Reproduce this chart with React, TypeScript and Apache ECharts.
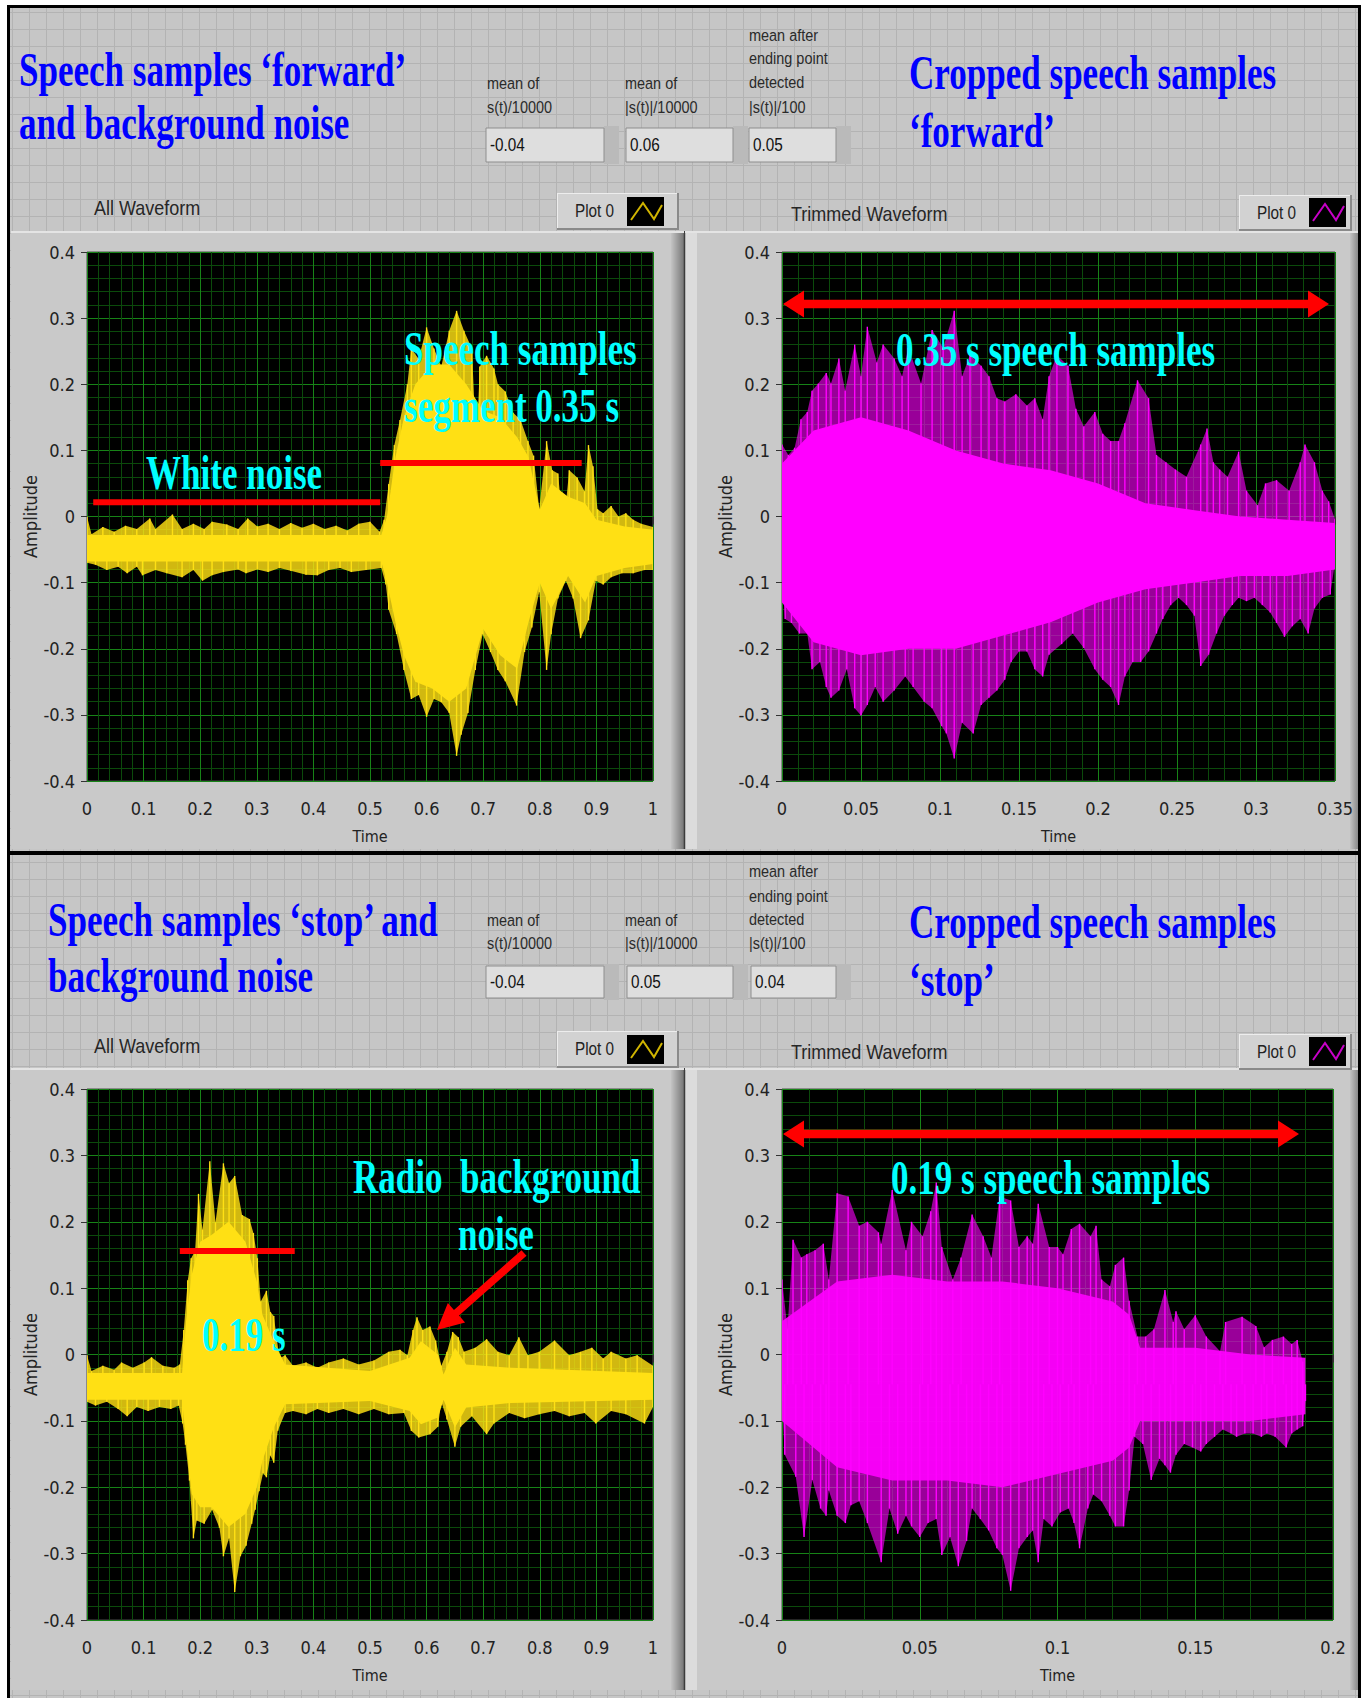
import React, { useEffect, useRef } from 'react';
import * as echarts from 'echarts';

const PAGE_W = 1363;
const PAGE_H = 1698;

// ---------- axis setup ----------
const timeMax = [1, 0.35, 1, 0.2];
const timeStep = [0.1, 0.05, 0.1, 0.05];
const ampMin = -0.4;
const ampMax = 0.4;
const ampStep = 0.1;
const waveCentre = -0.045; // DC level the samples swing around

// ---------- waveform envelopes ([time, amplitude]) ----------
const fwdUpper = [[0,0],[0.008,-0.027],[0.028,-0.016],[0.048,-0.023],[0.068,-0.014],[0.088,-0.019],[0.111,-0.003],[0.121,-0.019],[0.151,0.003],[0.168,-0.019],[0.188,-0.011],[0.207,-0.019],[0.221,-0.008],[0.247,-0.012],[0.267,-0.019],[0.284,-0.003],[0.301,-0.015],[0.32,-0.011],[0.34,-0.019],[0.36,-0.01],[0.38,-0.017],[0.4,-0.011],[0.42,-0.019],[0.44,-0.014],[0.46,-0.021],[0.48,-0.011],[0.5,-0.008],[0.517,-0.023],[0.525,-0.005],[0.533,0.049],[0.543,0.108],[0.553,0.146],[0.566,0.2],[0.573,0.254],[0.586,0.238],[0.6,0.286],[0.613,0.254],[0.626,0.227],[0.64,0.281],[0.653,0.311],[0.666,0.281],[0.68,0.254],[0.688,0.103],[0.694,0.227],[0.706,0.243],[0.719,0.224],[0.726,0.2],[0.739,0.189],[0.753,0.157],[0.766,0.146],[0.779,0.114],[0.789,0.092],[0.799,0.011],[0.812,0.114],[0.822,0.07],[0.832,0.065],[0.842,-0.016],[0.852,0.07],[0.866,0.059],[0.879,0.038],[0.886,0.108],[0.894,0.076],[0.902,0.011],[0.912,0.005],[0.926,0.016],[0.939,0],[0.952,0.005],[0.965,-0.005],[0.979,-0.011],[1,-0.016]];
const fwdLower = [[0,-0.07],[0.015,-0.073],[0.035,-0.081],[0.055,-0.076],[0.071,-0.086],[0.088,-0.076],[0.098,-0.089],[0.121,-0.081],[0.141,-0.086],[0.168,-0.092],[0.188,-0.081],[0.204,-0.097],[0.221,-0.089],[0.241,-0.084],[0.267,-0.08],[0.281,-0.086],[0.301,-0.08],[0.32,-0.084],[0.34,-0.078],[0.36,-0.082],[0.387,-0.088],[0.407,-0.089],[0.427,-0.081],[0.447,-0.078],[0.467,-0.084],[0.493,-0.081],[0.52,-0.078],[0.528,-0.103],[0.533,-0.141],[0.547,-0.178],[0.56,-0.232],[0.573,-0.276],[0.586,-0.27],[0.6,-0.303],[0.613,-0.276],[0.626,-0.281],[0.64,-0.297],[0.653,-0.362],[0.661,-0.33],[0.673,-0.297],[0.686,-0.232],[0.699,-0.178],[0.713,-0.205],[0.726,-0.232],[0.739,-0.249],[0.759,-0.286],[0.773,-0.205],[0.786,-0.168],[0.799,-0.114],[0.812,-0.232],[0.82,-0.178],[0.832,-0.124],[0.846,-0.097],[0.859,-0.124],[0.872,-0.184],[0.886,-0.157],[0.899,-0.097],[0.912,-0.103],[0.926,-0.092],[0.945,-0.086],[0.965,-0.086],[0.985,-0.081],[1,-0.081]];
// [time, upper, lower] of the dense core
const fwdCore = [[0,-0.028,-0.068],[0.52,-0.028,-0.068],[0.53,0,-0.1],[0.545,0.09,-0.16],[0.56,0.15,-0.21],[0.58,0.2,-0.25],[0.61,0.23,-0.26],[0.64,0.23,-0.28],[0.67,0.2,-0.26],[0.7,0.16,-0.17],[0.73,0.15,-0.21],[0.76,0.12,-0.23],[0.78,0.09,-0.16],[0.8,0.01,-0.1],[0.82,0.05,-0.14],[0.85,0.03,-0.09],[0.88,0.02,-0.13],[0.9,-0.005,-0.09],[0.95,-0.015,-0.078],[1,-0.02,-0.072]];

const fwdCropUpper = [[0,0.109],[0.004,0.093],[0.008,0.104],[0.012,0.147],[0.016,0.158],[0.019,0.19],[0.023,0.201],[0.028,0.217],[0.031,0.201],[0.036,0.239],[0.04,0.19],[0.046,0.26],[0.05,0.212],[0.054,0.287],[0.06,0.233],[0.064,0.26],[0.071,0.239],[0.076,0.212],[0.08,0.255],[0.088,0.201],[0.095,0.282],[0.102,0.255],[0.109,0.311],[0.114,0.212],[0.119,0.244],[0.126,0.228],[0.131,0.212],[0.136,0.179],[0.141,0.174],[0.148,0.185],[0.155,0.168],[0.16,0.179],[0.165,0.147],[0.169,0.212],[0.174,0.244],[0.181,0.228],[0.186,0.163],[0.191,0.136],[0.198,0.158],[0.203,0.125],[0.208,0.114],[0.213,0.114],[0.217,0.141],[0.225,0.206],[0.232,0.179],[0.237,0.093],[0.243,0.082],[0.249,0.071],[0.256,0.06],[0.265,0.109],[0.269,0.133],[0.273,0.082],[0.277,0.071],[0.282,0.06],[0.289,0.098],[0.294,0.039],[0.301,0.017],[0.306,0.05],[0.313,0.055],[0.321,0.039],[0.328,0.082],[0.331,0.109],[0.337,0.082],[0.342,0.039],[0.346,0.023],[0.35,-0.004]];
const fwdCropLower = [[0,-0.101],[0.002,-0.155],[0.006,-0.161],[0.011,-0.177],[0.016,-0.177],[0.019,-0.231],[0.024,-0.22],[0.028,-0.258],[0.031,-0.274],[0.036,-0.263],[0.041,-0.231],[0.046,-0.29],[0.05,-0.301],[0.054,-0.285],[0.059,-0.258],[0.064,-0.28],[0.071,-0.263],[0.078,-0.242],[0.083,-0.258],[0.09,-0.28],[0.095,-0.29],[0.101,-0.317],[0.104,-0.328],[0.109,-0.366],[0.114,-0.312],[0.121,-0.328],[0.126,-0.285],[0.131,-0.274],[0.136,-0.263],[0.141,-0.247],[0.145,-0.22],[0.15,-0.204],[0.155,-0.204],[0.16,-0.231],[0.165,-0.242],[0.169,-0.209],[0.177,-0.193],[0.184,-0.177],[0.191,-0.199],[0.198,-0.231],[0.203,-0.247],[0.208,-0.258],[0.213,-0.285],[0.217,-0.242],[0.222,-0.22],[0.227,-0.22],[0.232,-0.204],[0.237,-0.177],[0.241,-0.155],[0.246,-0.134],[0.251,-0.123],[0.256,-0.134],[0.261,-0.15],[0.265,-0.226],[0.27,-0.209],[0.275,-0.177],[0.28,-0.15],[0.285,-0.134],[0.289,-0.123],[0.294,-0.128],[0.299,-0.123],[0.304,-0.134],[0.309,-0.145],[0.313,-0.161],[0.318,-0.182],[0.323,-0.166],[0.328,-0.155],[0.333,-0.177],[0.337,-0.139],[0.342,-0.123],[0.347,-0.118],[0.35,-0.069]];
const fwdCropCore = [[0,0.08,-0.13],[0.02,0.13,-0.19],[0.05,0.15,-0.21],[0.08,0.13,-0.2],[0.11,0.1,-0.2],[0.14,0.08,-0.18],[0.17,0.07,-0.16],[0.2,0.05,-0.13],[0.23,0.02,-0.11],[0.26,0.01,-0.1],[0.29,0,-0.09],[0.32,-0.005,-0.09],[0.35,-0.01,-0.08]];

const stopUpper = [[0,-0.001],[0.008,-0.025],[0.028,-0.017],[0.048,-0.023],[0.061,-0.012],[0.081,-0.02],[0.101,-0.012],[0.114,-0.004],[0.134,-0.017],[0.154,-0.02],[0.164,-0.015],[0.171,0.037],[0.178,0.112],[0.184,0.145],[0.191,0.156],[0.197,0.242],[0.204,0.188],[0.217,0.291],[0.227,0.199],[0.241,0.288],[0.251,0.258],[0.261,0.269],[0.274,0.21],[0.287,0.204],[0.294,0.183],[0.301,0.145],[0.307,0.08],[0.317,0.096],[0.324,0.064],[0.33,0.058],[0.34,-0.006],[0.35,-0.001],[0.364,-0.017],[0.387,-0.012],[0.407,-0.02],[0.427,-0.012],[0.453,-0.006],[0.48,-0.015],[0.507,-0.009],[0.533,0.004],[0.553,0.007],[0.566,-0.001],[0.576,0.037],[0.583,0.056],[0.593,0.037],[0.606,0.042],[0.616,0.021],[0.626,-0.017],[0.636,0.004],[0.646,0.034],[0.656,0.026],[0.666,0.004],[0.686,0.01],[0.706,0.023],[0.726,0.004],[0.746,-0.001],[0.763,0.026],[0.779,-0.001],[0.799,0.004],[0.826,0.021],[0.852,-0.001],[0.872,0.004],[0.892,0.01],[0.912,-0.006],[0.926,0.004],[0.952,-0.006],[0.972,-0.001],[1,-0.017]];
const stopLower = [[0,-0.071],[0.015,-0.077],[0.035,-0.071],[0.055,-0.082],[0.071,-0.093],[0.088,-0.079],[0.108,-0.085],[0.128,-0.079],[0.148,-0.082],[0.162,-0.077],[0.169,-0.104],[0.174,-0.136],[0.181,-0.19],[0.188,-0.277],[0.194,-0.25],[0.207,-0.255],[0.221,-0.234],[0.234,-0.261],[0.241,-0.304],[0.251,-0.277],[0.261,-0.358],[0.271,-0.304],[0.281,-0.288],[0.291,-0.255],[0.297,-0.234],[0.304,-0.206],[0.311,-0.179],[0.317,-0.185],[0.324,-0.152],[0.33,-0.163],[0.337,-0.115],[0.35,-0.088],[0.364,-0.085],[0.387,-0.09],[0.407,-0.082],[0.427,-0.088],[0.453,-0.082],[0.48,-0.09],[0.507,-0.082],[0.533,-0.09],[0.56,-0.088],[0.573,-0.115],[0.586,-0.125],[0.606,-0.12],[0.62,-0.109],[0.626,-0.071],[0.636,-0.098],[0.65,-0.139],[0.66,-0.109],[0.68,-0.093],[0.706,-0.12],[0.719,-0.104],[0.746,-0.088],[0.773,-0.096],[0.799,-0.09],[0.826,-0.085],[0.852,-0.093],[0.879,-0.088],[0.899,-0.104],[0.926,-0.085],[0.952,-0.09],[0.985,-0.104],[1,-0.079]];
const stopCore = [[0,-0.028,-0.068],[0.168,-0.028,-0.068],[0.175,0.05,-0.13],[0.185,0.12,-0.21],[0.2,0.17,-0.23],[0.22,0.18,-0.23],[0.25,0.2,-0.26],[0.28,0.17,-0.24],[0.3,0.11,-0.2],[0.31,0.06,-0.16],[0.33,0.02,-0.11],[0.35,-0.015,-0.075],[0.5,-0.025,-0.07],[0.57,-0.005,-0.085],[0.59,0.02,-0.105],[0.62,0,-0.095],[0.63,-0.03,-0.068],[0.65,0.01,-0.11],[0.67,-0.015,-0.08],[0.75,-0.02,-0.073],[1,-0.028,-0.068]];

const stopCropUpper = [[0,0.113],[0.002,0.038],[0.004,0.173],[0.007,0.146],[0.009,0.151],[0.012,0.157],[0.015,0.167],[0.017,0.113],[0.02,0.243],[0.024,0.238],[0.028,0.194],[0.031,0.2],[0.035,0.184],[0.036,0.167],[0.04,0.248],[0.045,0.157],[0.047,0.2],[0.051,0.178],[0.054,0.216],[0.056,0.259],[0.058,0.162],[0.062,0.113],[0.065,0.146],[0.069,0.211],[0.073,0.178],[0.076,0.146],[0.079,0.238],[0.083,0.232],[0.086,0.162],[0.089,0.178],[0.091,0.167],[0.093,0.227],[0.097,0.162],[0.1,0.162],[0.102,0.151],[0.105,0.189],[0.108,0.197],[0.112,0.178],[0.114,0.194],[0.116,0.113],[0.119,0.103],[0.121,0.135],[0.124,0.146],[0.126,0.081],[0.129,0.027],[0.132,0.027],[0.135,0.038],[0.139,0.097],[0.142,0.049],[0.143,0.065],[0.146,0.038],[0.15,0.059],[0.154,0.027],[0.159,0.005],[0.161,0.049],[0.167,0.057],[0.172,0.043],[0.175,0.011],[0.178,0.022],[0.182,0.027],[0.185,0.016],[0.187,0.022],[0.189,-0.011]];
const stopCropLower = [[0,-0.07],[0.001,-0.151],[0.005,-0.184],[0.008,-0.275],[0.011,-0.189],[0.014,-0.232],[0.016,-0.243],[0.017,-0.205],[0.02,-0.243],[0.023,-0.254],[0.025,-0.227],[0.028,-0.221],[0.031,-0.254],[0.036,-0.313],[0.039,-0.232],[0.042,-0.27],[0.045,-0.243],[0.047,-0.259],[0.05,-0.275],[0.053,-0.254],[0.056,-0.248],[0.058,-0.302],[0.061,-0.275],[0.064,-0.319],[0.067,-0.281],[0.069,-0.232],[0.072,-0.248],[0.075,-0.265],[0.078,-0.292],[0.08,-0.302],[0.083,-0.356],[0.086,-0.292],[0.089,-0.275],[0.091,-0.265],[0.093,-0.313],[0.095,-0.248],[0.098,-0.259],[0.101,-0.238],[0.104,-0.232],[0.106,-0.254],[0.108,-0.292],[0.111,-0.232],[0.113,-0.211],[0.116,-0.221],[0.119,-0.243],[0.121,-0.259],[0.124,-0.259],[0.126,-0.205],[0.128,-0.124],[0.131,-0.135],[0.134,-0.189],[0.137,-0.157],[0.139,-0.167],[0.141,-0.178],[0.143,-0.151],[0.146,-0.135],[0.149,-0.14],[0.152,-0.146],[0.154,-0.135],[0.157,-0.124],[0.16,-0.113],[0.163,-0.119],[0.165,-0.124],[0.168,-0.119],[0.171,-0.119],[0.174,-0.124],[0.176,-0.119],[0.179,-0.124],[0.183,-0.14],[0.185,-0.119],[0.187,-0.113],[0.189,-0.108],[0.19,-0.07]];
const stopCropCore = [[0,0.05,-0.1],[0.02,0.11,-0.17],[0.04,0.12,-0.19],[0.06,0.11,-0.19],[0.08,0.11,-0.2],[0.1,0.1,-0.18],[0.12,0.08,-0.16],[0.126,0.06,-0.14],[0.13,0.01,-0.1],[0.15,0.01,-0.1],[0.17,0,-0.1],[0.19,-0.005,-0.09]];

// red marker bars drawn on the full waveforms ([t0, t1, amplitude])
const fwdMarks = [[0.011, 0.518, 0.0216], [0.518, 0.874, 0.081]];
const stopMarks = [[0.164, 0.367, 0.156]];

// indicator readouts
const fwdStats = ['-0.04', '0.06', '0.05'];
const stopStats = ['-0.04', '0.05', '0.04'];

// ---------- styling ----------
const UI = '"Liberation Sans", "DejaVu Sans", Arial, sans-serif';
const AXIS_FONT = '"Liberation Sans Narrow", "DejaVu Sans Condensed", "Liberation Sans", Arial, sans-serif';
const SERIF = '"Liberation Serif", "Times New Roman", serif';
const YELLOW = '#ffe014';
const YELLOW_EDGE = 'rgba(255,224,20,0.82)';
const MAGENTA = '#ff00ff';
const MAGENTA_EDGE = 'rgba(255,0,255,0.6)';
const CYAN = '#00ffff';
const BLUE = '#0000ff';
const RED = '#ff0000';

const grids = [
  { left: 87, top: 252, width: 566, height: 529 },
  { left: 782, top: 252, width: 553, height: 529 },
  { left: 87, top: 1089, width: 566, height: 531 },
  { left: 782, top: 1089, width: 551, height: 531 },
];

// outer envelope: translucent polygon plus a vertical stroke at every read spike
function envelopeSeries(idx: number, upper: number[][], lower: number[][], fill: string, z: number, spike?: string) {
  return {
    type: 'custom', xAxisIndex: idx, yAxisIndex: idx, z, silent: true, clip: true,
    data: [[0, 0]],
    renderItem: (_p: any, api: any) => {
      const pts: number[][] = [];
      upper.forEach((d) => pts.push(api.coord([d[0], d[1]])));
      for (let i = lower.length - 1; i >= 0; i--) pts.push(api.coord([lower[i][0], lower[i][1]]));
      const children: any[] = [{ type: 'polygon', shape: { points: pts }, style: { fill } }];
      if (spike) {
        [...upper, ...lower].forEach((d) => {
          const a = api.coord([d[0], d[1]]);
          const b = api.coord([d[0], waveCentre]);
          children.push({ type: 'line', shape: { x1: a[0], y1: a[1], x2: b[0], y2: b[1] }, style: { stroke: spike, lineWidth: 1.4 } });
        });
      }
      return { type: 'group', children };
    },
  };
}
function coreSeries(idx: number, core: number[][], fill: string, z: number) {
  return envelopeSeries(idx, core.map((c) => [c[0], c[1]]), core.map((c) => [c[0], c[2]]), fill, z);
}
function markSeries(idx: number, marks: number[][]) {
  return marks.map((m) => ({
    type: 'line', xAxisIndex: idx, yAxisIndex: idx, z: 5, silent: true, symbol: 'none',
    data: [[m[0], m[2]], [m[1], m[2]]],
    lineStyle: { color: RED, width: 6, cap: 'butt' },
  }));
}

// ---------- graphic helpers ----------
const R = (x: number, y: number, w: number, h: number, fill: any, z: number, extra: any = {}) =>
  ({ type: 'rect', silent: true, z, shape: { x, y, width: w, height: h }, style: { fill, ...extra } });
const L = (x1: number, y1: number, x2: number, y2: number, stroke: string, lw: number, z: number) =>
  ({ type: 'line', silent: true, z, shape: { x1, y1, x2, y2 }, style: { stroke, lineWidth: lw } });
const T = (text: string, x: number, y: number, size: number, fill: string, z: number, sx = 1, family = UI, weight = 'normal') =>
  ({ type: 'text', silent: true, z, x, y, scaleX: sx,
    style: { text, x: 0, y: 0, fill, fontSize: size, fontFamily: family, fontWeight: weight, align: 'left', verticalAlign: 'middle' } });
const big = (text: string, x: number, y: number, fill: string) => T(text, x, y, 48, fill, 12, 0.73, SERIF, 'bold');

function doubleArrow(x1: number, x2: number, y: number) {
  const hl = 21, hh = 13.5, sh = 4.3;
  return { type: 'polygon', silent: true, z: 11, style: { fill: RED },
    shape: { points: [[x1, y], [x1 + hl, y - hh], [x1 + hl, y - sh], [x2 - hl, y - sh], [x2 - hl, y - hh], [x2, y], [x2 - hl, y + hh], [x2 - hl, y + sh], [x1 + hl, y + sh], [x1 + hl, y + hh]] } };
}
function singleArrow(tx: number, ty: number, hx: number, hy: number) {
  const hl = 26, hh = 13, sh = 3.8;
  const dx = hx - tx, dy = hy - ty, len = Math.hypot(dx, dy);
  const ux = dx / len, uy = dy / len, nx = -uy, ny = ux;
  const bx = hx - ux * hl, by = hy - uy * hl;
  return { type: 'polygon', silent: true, z: 11, style: { fill: RED },
    shape: { points: [[tx + nx * sh, ty + ny * sh], [bx + nx * sh, by + ny * sh], [bx + nx * hh, by + ny * hh], [hx, hy], [bx - nx * hh, by - ny * hh], [bx - nx * sh, by - ny * sh], [tx - nx * sh, ty - ny * sh]] } };
}

function buildGraphics() {
  const els: any[] = [];
  els.push(R(0, 0, PAGE_W, PAGE_H, '#ffffff', -40));
  els.push(R(8, 7, 1352, 1691, '#c6c6c6', -39));
  for (let x = 12; x < 1360; x += 17) els.push(L(x + 0.5, 8, x + 0.5, PAGE_H, '#b3b3b3', 1, -38));
  for (let y = 12; y < PAGE_H; y += 17) els.push(L(8, y + 0.5, 1360, y + 0.5, '#b3b3b3', 1, -38));

  const bevelDark = new echarts.graphic.LinearGradient(0, 0, 1, 0, [{ offset: 0, color: '#c4c4c4' }, { offset: 1, color: '#767676' }]);
  const bevelDark2 = new echarts.graphic.LinearGradient(0, 0, 1, 0, [{ offset: 0, color: '#c4c4c4' }, { offset: 1, color: '#8a8a8a' }]);
  const frames = (top: number, h: number) => {
    els.push(R(11, top, 673, h, '#c9c9c9', -30));
    els.push(R(671, top, 13, h, bevelDark, -29));
    els.push(L(684.5, top, 684.5, top + h, '#3c3c3c', 1.5, -28));
    els.push(L(11, top + 1, 684, top + 1, '#e4e4e4', 2, -28));
    els.push(R(685, top, 673, h, '#c9c9c9', -30));
    els.push(R(685, top, 12, h, '#dcdcdc', -29));
    els.push(R(1350, top, 8, h, bevelDark2, -29));
    els.push(L(685, top + 1, 1358, top + 1, '#e4e4e4', 2, -28));
  };
  frames(231, 618);
  frames(1068, 622);

  // borders and separator
  els.push(R(8, 851, 1352, 4, '#000000', -5));
  els.push(R(8.5, 6.5, 1351, 1700, 'none', -5, { stroke: '#000000', lineWidth: 3 }));

  // legends
  const legend = (bx: number, by: number, bw: number, bh: number, tx: number, ix: number, iy: number, color: string) => {
    els.push(R(bx, by, bw, bh, '#d2d2d2', -20));
    els.push(L(bx, by + 0.5, bx + bw, by + 0.5, '#ededed', 1, -19));
    els.push(L(bx + 0.5, by, bx + 0.5, by + bh, '#ededed', 1, -19));
    els.push(L(bx, by + bh - 1, bx + bw, by + bh - 1, '#8a8a8a', 2, -19));
    els.push(L(bx + bw - 1, by, bx + bw - 1, by + bh, '#8a8a8a', 2, -19));
    els.push(T('Plot 0', tx, by + bh / 2, 18, '#222222', 12, 0.85));
    els.push(R(ix, iy, 37, 29, '#000000', -18));
    els.push({ type: 'polyline', silent: true, z: -17, style: { stroke: color, lineWidth: 2, fill: null },
      shape: { points: [[ix + 4, iy + 23], [ix + 16, iy + 6], [ix + 27, iy + 22], [ix + 35, iy + 8]] } });
  };
  legend(557, 193, 122, 37, 575, 627, 197, '#d0b400');
  legend(1239, 195, 113, 36, 1257, 1309, 198, '#c800c8');
  legend(557, 1031, 122, 37, 575, 627, 1035, '#d0b400');
  legend(1239, 1034, 113, 36, 1257, 1309, 1037, '#c800c8');

  // graph captions
  els.push(T('All Waveform', 94, 208, 20, '#262626', 12, 0.9));
  els.push(T('Trimmed Waveform', 791, 214, 20, '#262626', 12, 0.9));
  els.push(T('All Waveform', 94, 1046, 20, '#262626', 12, 0.9));
  els.push(T('Trimmed Waveform', 791, 1052, 20, '#262626', 12, 0.9));

  // numeric indicators
  const box = (x: number, y: number, w: number, h: number, val: string) => {
    els.push(R(x + w, y - 2, 15, h + 4, '#bababa', -20));
    els.push(R(x, y, w, h, '#dedede', -19, { stroke: '#8e8e8e', lineWidth: 1 }));
    els.push(T(val, x + 4, y + h / 2, 18, '#111111', 12, 0.85));
  };
  const lab = (s: string, x: number, y: number) => els.push(T(s, x, y, 17, '#2a2a2a', 12, 0.85));
  // top half
  lab('mean of', 487, 83); lab('s(t)/10000', 487, 107);
  lab('mean of', 625, 83); lab('|s(t)|/10000', 625, 107);
  lab('mean after', 749, 35); lab('ending point', 749, 58); lab('detected', 749, 82); lab('|s(t)|/100', 749, 107);
  box(486, 128, 118, 34, fwdStats[0]); box(626, 128, 107, 34, fwdStats[1]); box(749, 128, 87, 34, fwdStats[2]);
  // bottom half
  lab('mean of', 487, 920); lab('s(t)/10000', 487, 943);
  lab('mean of', 625, 920); lab('|s(t)|/10000', 625, 943);
  lab('mean after', 749, 871); lab('ending point', 749, 896); lab('detected', 749, 919); lab('|s(t)|/100', 749, 943);
  box(486, 966, 118, 32, stopStats[0]); box(627, 966, 106, 32, stopStats[1]); box(751, 966, 85, 32, stopStats[2]);

  // titles
  els.push(big('Speech samples \u2018forward\u2019', 19, 70, BLUE));
  els.push(big('and background noise', 19, 123, BLUE));
  els.push(big('Cropped speech samples', 909, 73, BLUE));
  els.push(big('\u2018forward\u2019', 909, 131, BLUE));
  els.push(big('Speech samples \u2018stop\u2019 and', 48, 920, BLUE));
  els.push(big('background noise', 48, 976, BLUE));
  els.push(big('Cropped speech samples', 909, 922, BLUE));
  els.push(big('\u2018stop\u2019', 909, 980, BLUE));

  // annotations inside plots
  els.push(big('White noise', 146, 473, CYAN));
  els.push(big('Speech samples', 404, 349, CYAN));
  els.push(big('segment 0.35 s', 404, 406, CYAN));
  els.push(doubleArrow(783, 1329, 304));
  els.push(big('0.35 s speech samples', 896, 350, CYAN));
  els.push(big('0.19 s', 202, 1335, CYAN));
  els.push(big('Radio  background', 353, 1177, CYAN));
  els.push(big('noise', 458, 1234, CYAN));
  els.push(singleArrow(524, 1253, 437, 1330));
  els.push(doubleArrow(783, 1299, 1134));
  els.push(big('0.19 s speech samples', 891, 1178, CYAN));
  return els;
}

function buildOption() {
  const fmt = (v: number) => String(Math.round(v * 100) / 100);
  const labelStyle = { color: '#222222', fontSize: 18, fontFamily: AXIS_FONT };
  const xAxis = grids.map((g, i) => ({
    type: 'value', gridIndex: i, min: 0, max: timeMax[i], interval: timeStep[i],
    name: 'Time', nameLocation: 'middle', nameGap: 47,
    nameTextStyle: { color: '#222222', fontSize: 16, fontFamily: AXIS_FONT },
    axisLine: { show: false },
    axisTick: { show: true, length: 8, lineStyle: { color: '#333333', width: 1 } },
    axisLabel: { ...labelStyle, margin: 18, formatter: fmt },
    splitLine: { show: true, lineStyle: { color: '#178317', width: 1 } },
    minorTick: { show: false, splitNumber: 5 },
    minorSplitLine: { show: true, lineStyle: { color: '#0b4a0b', width: 1 } },
  }));
  const yAxis = grids.map((g, i) => ({
    type: 'value', gridIndex: i, min: ampMin, max: ampMax, interval: ampStep,
    name: 'Amplitude', nameLocation: 'middle', nameGap: 44, nameRotate: 90,
    nameTextStyle: { color: '#222222', fontSize: 18, fontFamily: AXIS_FONT },
    axisLine: { show: false },
    axisTick: { show: true, length: 6, lineStyle: { color: '#333333', width: 1 } },
    axisLabel: { ...labelStyle, margin: 12, formatter: (v: number) => String(Math.round(v * 10) / 10) },
    splitLine: { show: true, lineStyle: { color: '#178317', width: 1 } },
    minorTick: { show: false, splitNumber: 5 },
    minorSplitLine: { show: true, lineStyle: { color: '#0b4a0b', width: 1 } },
  }));
  const series: any[] = [
    envelopeSeries(0, fwdUpper, fwdLower, YELLOW_EDGE, 2, YELLOW),
    coreSeries(0, fwdCore, YELLOW, 3),
    ...markSeries(0, fwdMarks),
    envelopeSeries(1, fwdCropUpper, fwdCropLower, MAGENTA_EDGE, 2, MAGENTA),
    coreSeries(1, fwdCropCore, MAGENTA, 3),
    envelopeSeries(2, stopUpper, stopLower, YELLOW_EDGE, 2, YELLOW),
    coreSeries(2, stopCore, YELLOW, 3),
    ...markSeries(2, stopMarks),
    envelopeSeries(3, stopCropUpper, stopCropLower, MAGENTA_EDGE, 2, MAGENTA),
    coreSeries(3, stopCropCore, 'rgba(255,0,255,0.9)', 3),
  ];
  return {
    animation: false,
    backgroundColor: '#ffffff',
    grid: grids.map((g) => ({ ...g, show: true, backgroundColor: '#000000', borderColor: '#4a4a4a', borderWidth: 1 })),
    xAxis, yAxis, series,
    graphic: { elements: buildGraphics() },
  };
}

export default function App() {
  const ref = useRef<HTMLDivElement>(null);
  useEffect(() => {
    if (!ref.current) return;
    const chart = echarts.init(ref.current, null, { renderer: 'svg', width: PAGE_W, height: PAGE_H });
    chart.setOption(buildOption() as any);
    return () => chart.dispose();
  }, []);
  return <div ref={ref} style={{ position: 'absolute', left: 0, top: 0, width: PAGE_W, height: PAGE_H }} />;
}
